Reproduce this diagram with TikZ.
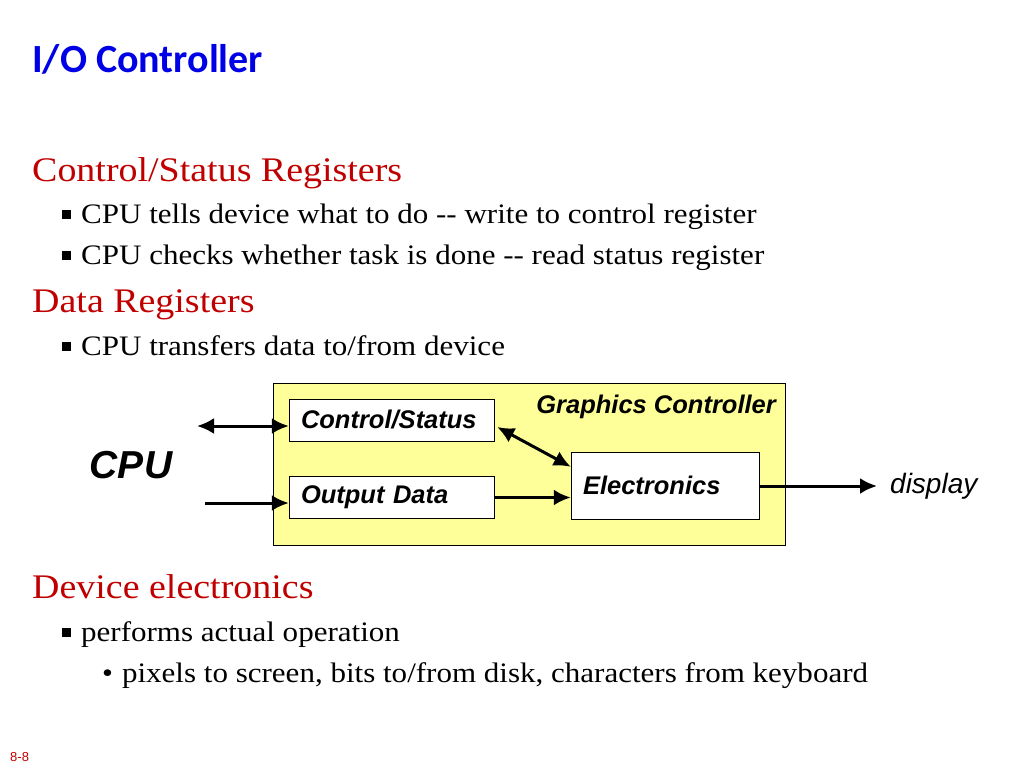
\documentclass[tikz,border=0pt]{standalone}
\usepackage{fontspec}
\setmainfont{Liberation Serif}[FakeStretch=1.1]
\newfontfamily\titlefont{Carlito}
\newfontfamily\diagfont{Liberation Sans}
\usetikzlibrary{arrows.meta,positioning,calc}
\usepackage{xcolor}
\definecolor{titleblue}{RGB}{0,0,230}
\definecolor{headred}{RGB}{192,0,0}
\definecolor{boxyellow}{RGB}{255,255,153}
\newcommand{\sqbullet}{\rule[4pt]{9pt}{9pt}\hspace{10pt}}
\newcommand{\dotbullet}{\textbullet\hspace{9pt}}

\tikzset{
  head/.style={anchor=base west, inner sep=0pt, text=headred, font=\fontsize{34.5}{40}\selectfont},
  item/.style={anchor=base west, inner sep=0pt, font=\fontsize{28.2}{32}\selectfont},
  regbox/.style={draw, fill=white, align=left, inner xsep=12pt, minimum height=42pt,
    font=\diagfont\bfseries\itshape\fontsize{25.5}{29}\selectfont},
  bus/.style={line width=3pt, -{Latex[length=17pt,width=16pt]}},
  busboth/.style={line width=3pt, {Latex[length=17pt,width=16pt]}-{Latex[length=17pt,width=16pt]}},
}

\begin{document}
\begin{tikzpicture}[x=1pt,y=-1pt]
    \useasboundingbox (0,0) rectangle (1024,768);

    % Slide text
    \node[anchor=base west, inner sep=0pt, text=titleblue, font=\titlefont\bfseries\fontsize{40}{44}\selectfont] (title) at (32,72) {I/O Controller};
    \node[head] (hdctl) at (32,181) {Control/Status Registers};
    \node[item] (itmctl) at (62,223) {\sqbullet CPU tells device what to do -{}- write to control register};
    \node[item] (itmstat) at (62,264) {\sqbullet CPU checks whether task is done -{}- read status register};
    \node[head] (hddata) at (32,312) {Data Registers};
    \node[item] (itmdata) at (62,355) {\sqbullet CPU transfers data to/from device};
    \node[head] (hddev) at (32,598) {Device electronics};
    \node[item] (itmop) at (62,641) {\sqbullet performs actual operation};
    \node[item] (itmpix) at (102,682) {\dotbullet pixels to screen, bits to/from disk, characters from keyboard};
    \node[anchor=base west, inner sep=0pt, text=headred, font=\diagfont\fontsize{13}{15}\selectfont] (pagenum) at (10,761) {8-8};

    % Graphics controller
    \node[draw, fill=boxyellow, minimum width=512pt, minimum height=162pt, inner sep=0pt] (gc) at (529,464) {};
    \node[anchor=base east, inner sep=0pt, font=\diagfont\bfseries\itshape\fontsize{25.5}{29}\selectfont] (gclabel) at (776,413) {Graphics Controller};
    \node[regbox, text width=181pt] (cs) at (391.5,420) {Control/Status};
    \node[regbox, text width=181pt] (od) at (391.5,497.5) {Output Data};
    \node[regbox, text width=164pt, minimum height=67pt] (elec) at (665,485.5) {Electronics};

    % CPU side
    \node[font=\diagfont\bfseries\itshape\fontsize{39}{43}\selectfont] (cpu) at (131,465) {CPU};
    \coordinate (cpuio) at (197,426);
    \coordinate (cpuout) at (205,503);
    \node[anchor=west, inner xsep=13pt, font=\diagfont\itshape\fontsize{28}{32}\selectfont] (disp) at (877,486) {display};

    % Connections
    \draw[busboth] (cpuio) -- (cpuio -| cs.west);
    \draw[bus] (cpuout) -- (cpuout -| od.west);
    \draw[busboth] ($(cs.east)+(3,7)$) -- ($(elec.north west)+(0,15)$);
    \draw[bus] (od.east) -- (od.east -| elec.west);
    \draw[bus] (elec.east |- disp.west) -- (disp.west);
\end{tikzpicture}
\end{document}
